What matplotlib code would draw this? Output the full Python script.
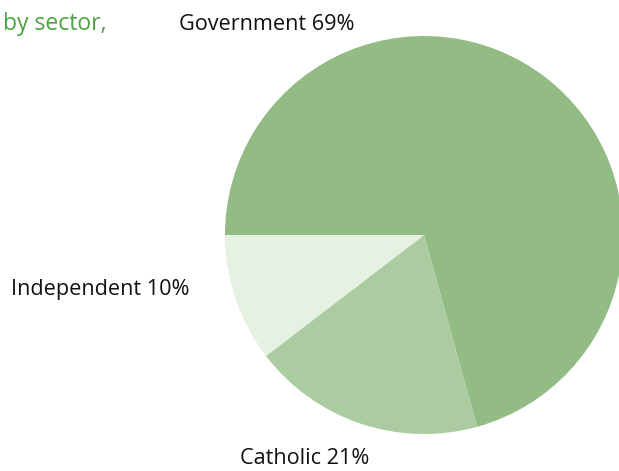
import matplotlib
matplotlib.use("Agg")
import matplotlib.pyplot as plt

sectors = ["Government", "Catholic", "Independent"]
shares = [70.7, 18.9, 10.4]
labels = ["Government 69%", "Catholic 21%", "Independent 10%"]
colors = ["#93bb84", "#abcba0", "#e6f2e1"]
title = "by sector,"

W, H = 619, 471
fig = plt.figure(figsize=(W / 100, H / 100), dpi=100)
ax = fig.add_axes([0, 0, 1, 1])
cx, cy, r = 424, 235, 199
ax.pie(shares, colors=colors, startangle=180, counterclock=False, radius=1,
       center=(0, 0), wedgeprops=dict(linewidth=0))
ax.set_xlim(-cx / r, (W - cx) / r)
ax.set_ylim(-(H - cy) / r, cy / r)
ax.set_aspect("equal")
ax.axis("off")

font = "Open Sans"
def ptxt(x, y, s, size=15.6, **kw):
    fig.text(x / W, 1 - y / H, s, family=font, fontsize=size, va="center", **kw)

ptxt(3, 24, title, size=16.5, ha="left", color="#4aa343")
ptxt(267, 24, labels[0], ha="center", color="#111111")
ptxt(100, 289, labels[2], ha="center", color="#111111")
ptxt(305, 459, labels[1], ha="center", color="#111111")

fig.savefig("out.png", dpi=100)
